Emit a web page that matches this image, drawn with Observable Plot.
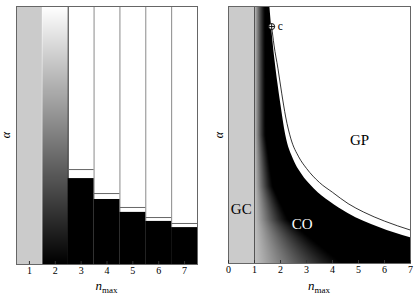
<!DOCTYPE html>
<html><head><meta charset="utf-8">
<script src="https://cdn.jsdelivr.net/npm/d3@7"></script>
<script src="https://cdn.jsdelivr.net/npm/@observablehq/plot@0.6"></script>
<style>
body{margin:0;background:#fff;}
#wrap{display:flex;width:416px;height:297px;overflow:hidden;}
#wrap svg{display:block;}
</style></head><body><div id="wrap"></div>
<script>
// ---------- data (left panel) ----------
const leftTicks = [1, 2, 3, 4, 5, 6, 7];
const barN = [3, 4, 5, 6, 7];
const barTop = [0.333, 0.252, 0.202, 0.167, 0.143];
const barLine = [0.368, 0.275, 0.221, 0.182, 0.159];
const separatorsX = [3.5, 4.5, 5.5, 6.5];
const gradSeparatorX = [2.5];

// ---------- data (right panel) ----------
const rightTicks = [0, 1, 2, 3, 4, 5, 6, 7];
const edgeN = [1.59, 1.68, 1.80, 1.90, 2.02, 2.20, 2.50, 2.80, 3.30, 3.90, 4.60, 5.80, 7.00];
const edgeA = [1.00, 0.894, 0.78, 0.70, 0.615, 0.50, 0.405, 0.35, 0.29, 0.24, 0.195, 0.14, 0.10];
const curveN = [1.66, 1.75, 1.90, 2.05, 2.20, 2.40, 2.70, 3.00, 3.50, 4.00, 4.60, 5.20, 6.00, 7.00];
const curveA = [0.922, 0.85, 0.76, 0.66, 0.57, 0.485, 0.415, 0.37, 0.315, 0.277, 0.233, 0.20, 0.165, 0.13];
// width (in n units) of the grey-to-black shading right of n=1, read at several alpha levels
const shadeAlpha = [0.00, 0.08, 0.17, 0.30, 0.50, 1.00];
const shadeWidth = [3.4, 2.4, 1.3, 0.7, 0.42, 0.40];
const cPointN = [1.66];
const cPointA = [0.922];
const regionLabels = ["GP", "GC", "CO"];
const regionN = [5.04, 0.49, 2.83];
const regionA = [0.479, 0.213, 0.152];
const regionColor = ["#000", "#000", "#fff"];
const alphaMin = 0, alphaMax = 1;

// ---------- tables ----------
const bars = barN.map((n, i) => ({n, top: barTop[i], line: barLine[i]}));
const edge = edgeN.map((n, i) => ({n, a: edgeA[i]}));
const curve = curveN.map((n, i) => ({n, a: curveA[i]}));
const cPoint = cPointN.map((n, i) => ({n, a: cPointA[i]}));
const regions = regionLabels.map((t, i) => ({t, n: regionN[i], a: regionA[i], c: regionColor[i]}));

function shadeW(a) {
  for (let i = 1; i < shadeAlpha.length; i++) {
    if (a <= shadeAlpha[i]) {
      const t = (a - shadeAlpha[i - 1]) / (shadeAlpha[i] - shadeAlpha[i - 1]);
      return shadeWidth[i - 1] + t * (shadeWidth[i] - shadeWidth[i - 1]);
    }
  }
  return shadeWidth[shadeWidth.length - 1];
}
function shade(x, y) {
  const t = (x - 1) / shadeW(y);
  return t >= 1 ? 0 : 0.76 * Math.pow(1 - t, 1.2);
}

const circlePlus = {
  draw(ctx, size) {
    const r = Math.sqrt(size / Math.PI);
    ctx.moveTo(r, 0);
    ctx.arc(0, 0, r, 0, 2 * Math.PI);
    ctx.moveTo(-r, 0); ctx.lineTo(r, 0);
    ctx.moveTo(0, -r); ctx.lineTo(0, r);
  }
};

const grayScale = {type: "linear", domain: [0, 1], range: ["#000", "#fff"], interpolate: "rgb"};
const baseStyle = {fontFamily: "Liberation Serif, serif", fontSize: "10px", background: "#fff", color: "#000", overflow: "visible"};

const left = Plot.plot({
  width: 208, height: 297,
  marginLeft: 16, marginRight: 11, marginTop: 6, marginBottom: 33,
  x: {domain: [0.5, 7.5]},
  y: {domain: [alphaMin, alphaMax], axis: null},
  color: grayScale,
  style: baseStyle,
  marks: [
    Plot.rect([{x1: 0.5, x2: 1.5}], {x1: "x1", x2: "x2", y1: () => alphaMin, y2: () => alphaMax, fill: "#cbcbcb", inset: 0}),
    Plot.raster({x1: 1.5, x2: 2.5, y1: alphaMin, y2: alphaMax, width: 26, height: 258, fill: (x, y) => y}),
    Plot.ruleX(separatorsX, {stroke: "#8a8a8a"}),
    Plot.ruleX(gradSeparatorX, {stroke: "#333"}),
    Plot.rect(bars, {x1: d => d.n - 0.5, x2: d => d.n + 0.5, y1: () => alphaMin, y2: "top", fill: "#000", inset: 0}),
    Plot.ruleY(bars, {y: "line", x1: d => d.n - 0.5, x2: d => d.n + 0.5, stroke: "#666"}),
    Plot.frame({stroke: "#666"}),
    Plot.axisX(leftTicks, {tickSize: 0, tickPadding: 2, label: null, fontSize: 10}),
    Plot.axisX(leftTicks, {tickSize: 3, dy: -3, tickFormat: () => "", label: null, stroke: "#333"})
  ]
});

const right = Plot.plot({
  width: 208, height: 297,
  marginLeft: 20, marginRight: 6, marginTop: 6, marginBottom: 34,
  x: {domain: [0, 7]},
  y: {domain: [alphaMin, alphaMax], axis: null},
  color: grayScale,
  style: baseStyle,
  marks: [
    Plot.rect([{x1: 0, x2: 1}], {x1: "x1", x2: "x2", y1: () => alphaMin, y2: () => alphaMax, fill: "#cbcbcb", inset: 0}),
    Plot.raster({x1: 1, x2: 7, y1: alphaMin, y2: alphaMax, width: 156, height: 257, fill: shade}),
    Plot.areaY(edge, {x: "n", y1: "a", y2: () => alphaMax, fill: "#fff", curve: "monotone-x"}),
    Plot.line(curve, {x: "n", y: "a", stroke: "#000", strokeWidth: 0.8, curve: "monotone-x"}),
    Plot.ruleX([1], {stroke: "#555"}),
    Plot.frame({stroke: "#666"}),
    Plot.dot(cPoint, {x: "n", y: "a", r: 3, symbol: circlePlus, fill: "#fff", stroke: "#000", strokeWidth: 0.9}),
    Plot.text(cPoint, {x: "n", y: "a", text: () => "c", dx: 6, textAnchor: "start", fontSize: 11.5}),
    Plot.text(regions, {x: "n", y: "a", text: "t", fill: "c", fontSize: 15}),
    Plot.axisX(rightTicks, {tickSize: 0, tickPadding: 2, label: null, fontSize: 10}),
    Plot.axisX(rightTicks, {tickSize: 3, dy: -3, tickFormat: () => "", label: null, stroke: "#333"})
  ]
});

function addLabels(svgNode, cx, ax) {
  const svg = d3.select(svgNode);
  const t = svg.append("text")
    .attr("x", cx).attr("y", 290)
    .attr("text-anchor", "middle")
    .attr("font-family", "Liberation Serif, serif");
  t.append("tspan").attr("font-style", "italic").attr("font-size", 13).text("n");
  t.append("tspan").attr("font-size", 9).attr("dy", 3).text("max");
  svg.append("text")
    .attr("transform", `translate(${ax},135) rotate(-90)`)
    .attr("text-anchor", "middle")
    .attr("dominant-baseline", "middle")
    .attr("font-family", "Liberation Serif, serif")
    .attr("font-style", "italic")
    .attr("font-size", 12)
    .text("α");
}
addLabels(left, 106.5, 7);
addLabels(right, 111, 12);

document.getElementById("wrap").append(left, right);
</script></body></html>
